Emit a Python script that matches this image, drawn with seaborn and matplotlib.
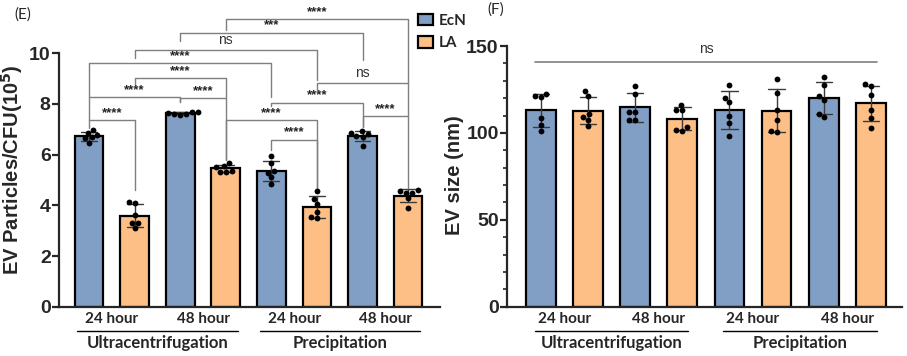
import numpy as np
import pandas as pd
import seaborn as sns
import matplotlib.pyplot as plt
from matplotlib.patches import Patch
import matplotlib.transforms as mtransforms

# data (6 replicates per bar)
methods = ["Ultracentrifugation", "Precipitation"]
times = ["24 hour", "48 hour"]
strains = ["EcN", "LA"]

# EV particles / CFU (10^5), order: UC 24h, UC 48h, P 24h, P 48h
particles_ecn = [[6.77, 6.47, 6.86, 6.64, 6.97, 6.68],
                 [7.62, 7.70, 7.66, 7.58, 7.68, 7.62],
                 [5.96, 5.66, 5.35, 5.29, 5.10, 4.84],
                 [6.86, 6.73, 6.81, 6.94, 6.71, 6.35]]
particles_la = [[4.10, 4.14, 3.62, 3.29, 3.09, 3.29],
                [5.55, 5.50, 5.68, 5.33, 5.33, 5.37],
                [4.56, 4.24, 4.04, 3.72, 3.49, 3.53],
                [4.60, 4.50, 4.55, 4.50, 4.28, 3.88]]

# EV size (nm)
size_ecn = [[122.4, 120.7, 121.4, 108.6, 104.7, 100.9],
            [127.2, 122.4, 111.8, 111.8, 107.6, 107.6],
            [127.8, 120.1, 117.8, 109.9, 106.0, 98.0],
            [132.2, 127.8, 119.1, 121.0, 108.9, 110.9]]
size_la = [[121.0, 123.9, 110.9, 107.6, 109.2, 104.2],
           [116.3, 113.0, 113.0, 103.7, 101.3, 101.5],
           [131.1, 123.0, 113.0, 107.6, 100.3, 100.9],
           [126.8, 128.2, 122.0, 113.4, 108.6, 102.8]]

# significance brackets for panel E: (bar i, bar j, line y, left drop to, right drop to, label)
brackets_e = [(0, 1, 7.36, 7.05, 4.60, "****"),
              (0, 2, 8.27, 7.36, 8.09, "****"),
              (2, 3, 8.23, 8.09, 5.79, "****"),
              (1, 3, 9.02, 8.75, 8.23, "****"),
              (0, 4, 9.60, 8.27, 8.27, "****"),
              (1, 5, 10.13, 9.81, 8.94, "ns"),
              (2, 6, 10.81, 10.48, 9.73, "***"),
              (3, 7, 11.35, 10.92, 8.82, "****"),
              (3, 5, 7.36, 5.79, 4.60, "****"),
              (4, 5, 6.58, 6.18, 4.60, "****"),
              (4, 6, 8.04, 7.92, 7.09, "****"),
              (5, 7, 8.82, 8.55, 7.52, "ns"),
              (6, 7, 7.52, 7.09, 4.68, "****")]

colors = {"EcN": "#819fc5", "LA": "#fdbf86"}


def make_df(ecn, la):
    rows = []
    for g, (m, t) in enumerate([(m, t) for m in methods for t in times]):
        for s, vals in zip(strains, [ecn[g], la[g]]):
            for v in vals:
                rows.append({"cond": f"{m} {t} {s}", "strain": s, "val": v})
    return pd.DataFrame(rows)


order = [f"{m} {t} {s}" for m in methods for t in times for s in strains]
df_e = make_df(particles_ecn, particles_la)
df_f = make_df(size_ecn, size_la)

sns.set_style("ticks")
plt.rcParams["font.family"] = ["Liberation Sans", "DejaVu Sans"]

fig = plt.figure(figsize=(9.07, 3.56), dpi=100)
ax1 = fig.add_axes([59 / 907, 49.3 / 356, 381 / 907, 306.7 / 356])
ax2 = fig.add_axes([507 / 907, 49.3 / 356, 395 / 907, 306.7 / 356])

tick_font = {"family": "Liberation Sans", "weight": "bold", "size": 14}
cat_font = {"family": "Lato", "weight": "bold", "size": 11}
group_font = {"family": "Lato", "weight": "bold", "size": 12}


def draw_panel(ax, df, ymax, yticks, xlim, ylim, span):
    sns.barplot(data=df, x="cond", y="val", hue="strain", order=order, hue_order=strains,
                palette=colors, saturation=1, dodge=False, width=0.63, errorbar="sd",
                capsize=0.35, err_kws={"color": "#3a3a3a", "linewidth": 1.0},
                edgecolor="black", linewidth=1.6, legend=False, ax=ax)
    sns.swarmplot(data=df, x="cond", y="val", order=order, color="black", size=4.2, ax=ax)
    ax.set_xlim(*xlim)
    ax.set_ylim(*ylim)
    ax.spines["top"].set_visible(False)
    ax.spines["right"].set_visible(False)
    ax.spines["left"].set_bounds(0, ymax)
    for sp in ["left", "bottom"]:
        ax.spines[sp].set_linewidth(1.6)
    ax.set_yticks(yticks)
    ax.set_yticklabels([str(v) for v in yticks], fontdict=tick_font)
    ax.tick_params(axis="y", length=5, width=1.6, pad=1)
    ax.set_xticks([0.5, 2.5, 4.5, 6.5])
    ax.set_xticklabels(times * 2, fontdict=cat_font)
    ax.tick_params(axis="x", length=0, pad=4)
    ax.set_xlabel("")
    trans = mtransforms.blended_transform_factory(ax.transData, ax.transAxes)
    for k, m in enumerate(methods):
        c = 1.5 + 4 * k
        ax.plot([c - span, c + span], [-0.079, -0.079], color="black", lw=1.0,
                transform=trans, clip_on=False)
        ax.text(c, -0.118, m, transform=trans, ha="center", va="center", fontdict=group_font)


draw_panel(ax1, df_e, 10, [0, 2, 4, 6, 8, 10], (-0.66, 7.70), (0, 12.1), 1.76)
draw_panel(ax2, df_f, 150, [0, 50, 100, 150], (-0.72, 7.66), (0, 176.5), 1.63)
ax2.set_yticks(np.arange(0, 151, 10), minor=True)
ax2.tick_params(axis="y", which="minor", length=3, width=1.2)

ax1.set_ylabel(r"EV Particles/CFU(10$^{\mathbf{5}}$)", fontsize=14.5, fontweight="bold")
ax1.yaxis.set_label_coords(-0.089, 0.446)
ax2.set_ylabel("EV size (nm)", fontsize=14.5, fontweight="bold")
ax2.yaxis.set_label_coords(-0.109, 0.43)

# brackets panel E
gray = "#7f7f7f"
for i, j, y, yl, yr, lab in brackets_e:
    ax1.plot([i, i, j, j], [yl, y, y, yr], color=gray, lw=1.0, clip_on=False)
    if lab == "ns":
        ax1.text((i + j) / 2, y + 0.12, lab, ha="center", va="bottom", fontsize=10,
                 color="#333333", clip_on=False)
    else:
        ax1.text((i + j) / 2, y + 0.05, lab, ha="center", va="bottom", fontsize=9.5,
                 fontweight="bold", color="#222222", clip_on=False)

# ns line panel F
ax2.plot([-0.12, 7.12], [141, 141], color=gray, lw=1.2, clip_on=False)
ax2.text(3.5, 144, "ns", ha="center", va="bottom", fontsize=10, color="#333333")

fig.text(14 / 907, 1 - 15 / 356, "(E)", fontsize=11, va="center", family="Lato")
fig.text(487 / 907, 1 - 10 / 356, "(F)", fontsize=11, va="center", family="Lato")

handles = [Patch(facecolor=colors[s], edgecolor="black", linewidth=1.6) for s in strains]
fig.legend(handles, strains, loc="upper left", bbox_to_anchor=(404 / 907, 1.0),
           frameon=False, handlelength=1.0, handleheight=0.8, handletextpad=0.35,
           labelspacing=0.55, borderpad=0.4,
           prop={"family": "Lato", "weight": "bold", "size": 11})

fig.savefig("out.png", dpi=100)
